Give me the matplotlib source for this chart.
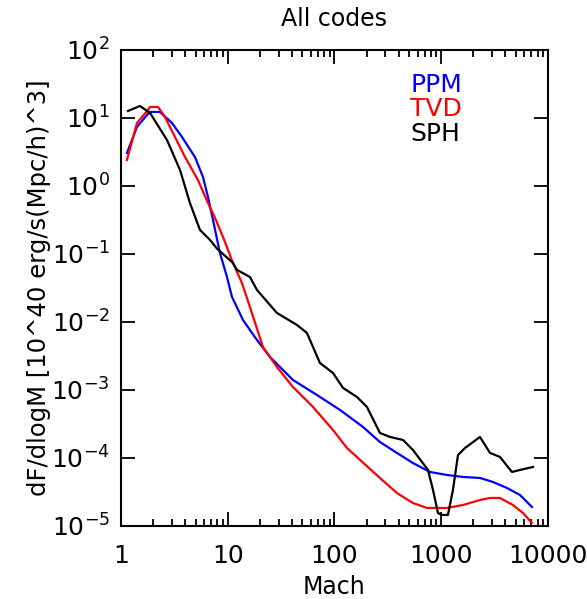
import numpy as np
import matplotlib
matplotlib.use("Agg")
import matplotlib.pyplot as plt
from matplotlib.ticker import LogLocator, FixedLocator, NullFormatter

# -------------------------------------------------------
# data (log10 Mach, log10 dF/dlogM)
# -------------------------------------------------------
ppm_logm = [0.056, 0.150, 0.244, 0.272, 0.365, 0.478, 0.571, 0.693, 0.768, 0.815,
            0.862, 0.927, 0.993, 1.040, 1.143, 1.274, 1.396, 1.611, 1.836, 2.052,
            2.267, 2.426, 2.585, 2.735, 2.895, 3.054, 3.204, 3.363, 3.485, 3.616,
            3.738, 3.850]
ppm_logf = [0.485, 0.868, 1.044, 1.088, 1.088, 0.926, 0.721, 0.426, 0.132, -0.162,
            -0.500, -0.985, -1.338, -1.632, -1.971, -2.265, -2.515, -2.853, -3.074, -3.294,
            -3.544, -3.765, -3.926, -4.074, -4.206, -4.250, -4.279, -4.294, -4.353, -4.441,
            -4.544, -4.721]

tvd_logm = [0.056, 0.150, 0.253, 0.272, 0.347, 0.412, 0.487, 0.600, 0.721, 0.815,
            0.881, 0.956, 1.049, 1.133, 1.208, 1.330, 1.461, 1.611, 1.799, 1.986,
            2.117, 2.426, 2.585, 2.735, 2.866, 3.054, 3.204, 3.363, 3.457, 3.550,
            3.672, 3.766, 3.850]
tvd_logf = [0.382, 0.926, 1.118, 1.162, 1.162, 1.015, 0.779, 0.426, 0.088, -0.250,
            -0.470, -0.750, -1.132, -1.426, -1.779, -2.368, -2.662, -2.956, -3.250, -3.588,
            -3.853, -4.294, -4.515, -4.662, -4.735, -4.735, -4.691, -4.618, -4.588, -4.588,
            -4.691, -4.809, -4.956]

sph_logm = [0.066, 0.178, 0.272, 0.431, 0.553, 0.646, 0.740, 0.834, 0.899, 1.049,
            1.087, 1.208, 1.274, 1.461, 1.649, 1.742, 1.864, 1.986, 2.080, 2.211,
            2.304, 2.426, 2.520, 2.642, 2.735, 2.876, 2.923, 2.970, 3.007, 3.063,
            3.110, 3.157, 3.223, 3.363, 3.457, 3.550, 3.663, 3.738, 3.860]
sph_logf = [1.103, 1.176, 1.074, 0.676, 0.235, -0.250, -0.647, -0.794, -0.920, -1.132,
            -1.235, -1.338, -1.529, -1.868, -2.044, -2.162, -2.603, -2.750, -2.970, -3.103,
            -3.250, -3.632, -3.691, -3.735, -3.882, -4.176, -4.470, -4.810, -4.838, -4.838,
            -4.470, -3.956, -3.853, -3.691, -3.926, -3.985, -4.206, -4.176, -4.132]

codes = ["PPM", "TVD", "SPH"]
colors = ["#0000ff", "#ff0000", "#000000"]

# -------------------------------------------------------
# figure
# -------------------------------------------------------
fig = plt.figure(figsize=(5.87, 5.99), dpi=100)
ax = fig.add_axes([0.2061, 0.1219, 0.7274, 0.7947])

series = [(ppm_logm, ppm_logf), (tvd_logm, tvd_logf), (sph_logm, sph_logf)]
for (lm, lf), c in zip(series, colors):
    ax.plot(10 ** np.array(lm), 10 ** np.array(lf), color=c, lw=1.6)

ax.set_xscale("log")
ax.set_yscale("log")
ax.set_xlim(1, 10000)
ax.set_ylim(1e-5, 1e2)

ax.xaxis.set_major_locator(FixedLocator([1, 10, 100, 1000, 10000]))
ax.set_xticklabels(["1", "10", "100", "1000", "10000"])
ax.xaxis.set_minor_locator(LogLocator(base=10, subs=np.arange(2, 10)))
ax.xaxis.set_minor_formatter(NullFormatter())
ax.yaxis.set_major_locator(FixedLocator([10.0 ** k for k in range(-5, 3)]))
ax.set_yticklabels([r"$10^{%d}$" % k for k in range(-5, 3)])
ax.yaxis.set_minor_locator(FixedLocator([]))

ax.tick_params(which="both", direction="in", top=True, right=True, width=1.3)
ax.tick_params(which="major", length=10)
ax.tick_params(which="minor", length=5)
ax.tick_params(axis="x", which="major", labelsize=18, pad=13)
ax.tick_params(axis="y", which="major", labelsize=18, pad=8)
for s in ax.spines.values():
    s.set_linewidth(1.5)

ax.set_title("All codes", fontsize=17, pad=17)
ax.set_xlabel("Mach", fontsize=17, labelpad=5)
ax.set_ylabel("dF/dlogM [10^40 erg/s(Mpc/h)^3]", fontsize=17.5, labelpad=0)

# legend as coloured text
for i, (name, c) in enumerate(zip(codes, colors)):
    ax.text(0.677, 0.926 - i * 0.051, name, color=c, fontsize=18,
            transform=ax.transAxes, va="center", ha="left")

fig.savefig("out.png", dpi=100)
